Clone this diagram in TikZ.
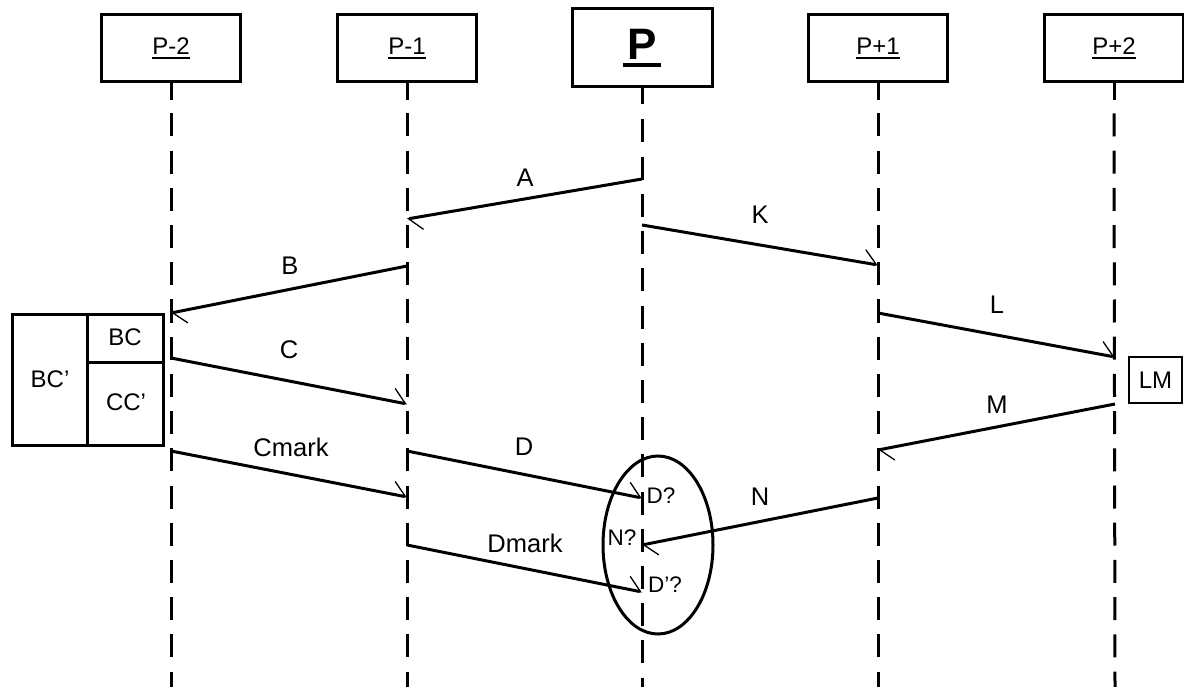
\documentclass[tikz,border=0pt]{standalone}
\usepackage{fontspec}
\setmainfont{Liberation Sans}
\usetikzlibrary{arrows.meta}
\newcommand{\ulx}[4]{\leavevmode\setbox0\hbox{#4}\rlap{\kern-#3\rule[#1]{\dimexpr\wd0+#3+#3\relax}{#2}}\box0}
\begin{document}
\begin{tikzpicture}[x=1pt,y=-1pt,
  head/.style={draw, line width=3pt, minimum width=139pt, minimum height=67pt, inner sep=0pt, font=\fontsize{24}{28}\selectfont},
  bighead/.style={head, minimum width=140pt, minimum height=78pt, font=\fontsize{44}{50}\selectfont\bfseries},
  life/.style={line width=3pt},
  lifedash/.style={line width=3pt, dash pattern=on 23pt off 14.2pt},
  msg/.style={line width=3pt, -{Straight Barb[left,length=13pt,width=26pt,line width=1.3pt]}},
  lbl/.style={font=\fontsize{25.5}{30}\selectfont, inner sep=0pt},
  qlbl/.style={font=\fontsize{22.5}{26}\selectfont, inner sep=0pt},
  blbl/.style={font=\fontsize{24}{28}\selectfont, inner sep=0pt},
  cell/.style={line width=3pt}]
\useasboundingbox (0,0) rectangle (1184,687);
% headers
\node[head] (h1) at (171,48.5) {\ulx{-4pt}{2.2pt}{0pt}{P-2}};
\node[head] (h2) at (407,48.5) {\ulx{-4pt}{2.2pt}{0pt}{P-1}};
\node[bighead] (h3) at (642,48) {\ulx{-7.6pt}{4.3pt}{4pt}{P}};
\node[head] (h4) at (878,48.5) {\ulx{-4pt}{2.2pt}{0pt}{P+1}};
\node[head] (h5) at (1114,48.5) {\ulx{-4pt}{2.2pt}{0pt}{P+2}};
% lifelines
\coordinate (e1) at (171,687);
\coordinate (e2) at (407,687);
\coordinate (e3) at (642,687);
\coordinate (e4) at (878,687);
\coordinate (e5) at (1115,687);
\foreach \n in {1,2,4,5}{
  \draw[life] (h\n.south) -- ([yshift=-17pt]h\n.south);
  \draw[lifedash] ([yshift=-30pt]h\n.south) -- (e\n);
}
\draw[life] (h3.south) -- ([yshift=-16pt]h3.south);
\draw[lifedash] ([yshift=-31pt]h3.south) -- (e3);
% message end points
\coordinate (a1) at (642,179); \coordinate (a2) at (407,219);
\coordinate (k1) at (642,225); \coordinate (k2) at (878,265);
\coordinate (b1) at (407,266); \coordinate (b2) at (171,313);
\coordinate (l1) at (878,313); \coordinate (l2) at (1115,357);
\coordinate (c1) at (171,358); \coordinate (c2) at (407,404);
\coordinate (m1) at (1115,404); \coordinate (m2) at (878,450);
\coordinate (cm1) at (171,451); \coordinate (cm2) at (407,497);
\coordinate (d1) at (407,451); \coordinate (d2) at (642,498);
\coordinate (n1) at (878,498); \coordinate (n2) at (642,545);
\coordinate (dm1) at (407,545); \coordinate (dm2) at (642,592);
\draw[msg] (a1) -- (a2);
\draw[msg] (k1) -- (k2);
\draw[msg] (b1) -- (b2);
\draw[msg] (l1) -- (l2);
\draw[msg] (c1) -- (c2);
\draw[msg] (m1) -- (m2);
\draw[msg] (cm1) -- (cm2);
\draw[msg] (d1) -- (d2);
\draw[msg] (n1) -- (n2);
\draw[msg] (dm1) -- (dm2);
% message labels
\node[lbl] (tA) at (525,178) {A};
\node[lbl] (tK) at (760,215) {K};
\node[lbl] (tB) at (290,266) {B};
\node[lbl] (tL) at (997,305) {L};
\node[lbl] (tC) at (289,350) {C};
\node[lbl] (tM) at (997,405) {M};
\node[lbl] (tCm) at (291,447) {Cmark};
\node[lbl] (tD) at (524,447) {D};
\node[lbl] (tN) at (760,497) {N};
\node[lbl] (tDm) at (525,543) {Dmark};
\node[qlbl] (tDq) at (661,496) {D?};
\node[qlbl] (tNq) at (622,538) {N?};
\node[qlbl] (tDpq) at (665,585) {D’?};
% ellipse
\draw[line width=3pt] (658,545) ellipse [x radius=55, y radius=89];
% BC box
\draw[cell] (12,314) rectangle (163,445);
\draw[cell] (87,314) -- (87,445);
\draw[cell] (87,362) -- (163,362);
\node[blbl] (tBCp) at (50,379) {BC’};
\node[blbl] (tBC) at (125,337) {BC};
\node[blbl] (tCCp) at (126,402) {CC’};
% LM box
\node[draw, line width=2.5pt, minimum width=53pt, minimum height=46pt, inner sep=0pt, font=\fontsize{24}{28}\selectfont] (lm) at (1155.5,380) {LM};
\end{tikzpicture}
\end{document}
